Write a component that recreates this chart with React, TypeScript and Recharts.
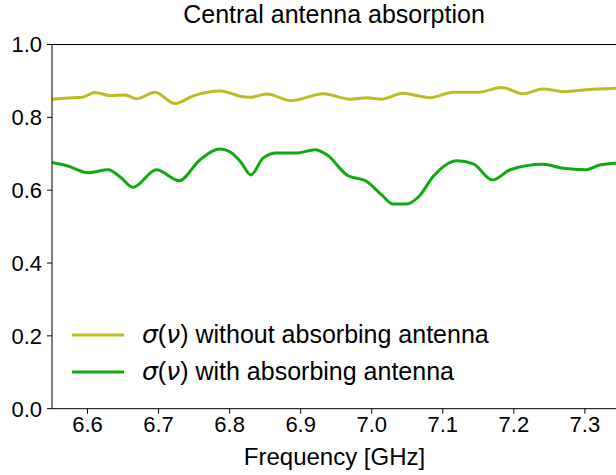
import { LineChart, Line, XAxis, YAxis } from 'recharts';

// sigma(nu) without absorbing antenna
const freqWithout = [
  6.55, 6.58, 6.592, 6.61, 6.632, 6.653, 6.669, 6.695, 6.723, 6.749, 6.786, 6.8, 6.815,
  6.829, 6.852, 6.887, 6.932, 6.969, 6.993, 7.014, 7.044, 7.068, 7.082, 7.115, 7.15,
  7.183, 7.213, 7.241, 7.27, 7.303, 7.345,
];
const sigmaWithout = [
  0.85, 0.854, 0.855, 0.868, 0.86, 0.861, 0.851, 0.869, 0.838, 0.859, 0.872, 0.867, 0.858,
  0.855, 0.864, 0.846, 0.865, 0.85, 0.854, 0.85, 0.866, 0.858, 0.854, 0.869, 0.869,
  0.882, 0.865, 0.878, 0.871, 0.876, 0.88,
];

// sigma(nu) with absorbing antenna
const freqWith = [
  6.55, 6.571, 6.601, 6.629, 6.646, 6.664, 6.697, 6.729, 6.758, 6.786, 6.8, 6.815, 6.83,
  6.847, 6.866, 6.894, 6.92, 6.937, 6.965, 6.993, 7.014, 7.03, 7.049, 7.066, 7.087, 7.12,
  7.143, 7.17, 7.195, 7.241, 7.27, 7.3, 7.321, 7.345,
];
const sigmaWith = [
  0.676, 0.667, 0.648, 0.656, 0.636, 0.608, 0.656, 0.626, 0.683, 0.713, 0.706, 0.679, 0.642,
  0.688, 0.702, 0.702, 0.711, 0.697, 0.642, 0.624, 0.587, 0.562, 0.562, 0.582, 0.639, 0.681,
  0.672, 0.628, 0.656, 0.671, 0.66, 0.656, 0.669, 0.674,
];

const xTicks = [6.6, 6.7, 6.8, 6.9, 7.0, 7.1, 7.2, 7.3];
const yTicks = [0, 0.2, 0.4, 0.6, 0.8, 1.0];

const seriesNames = ['without absorbing antenna', 'with absorbing antenna'];
const seriesColors = ['#bcbd22', '#10aa10'];

const withoutData = freqWithout.map((f, i) => ({ f, v: sigmaWithout[i] }));
const withData = freqWith.map((f, i) => ({ f, v: sigmaWith[i] }));

const FONT = '"Liberation Sans", Arial, sans-serif';
const MATH = { fontFamily: '"DejaVu Sans"', fontStyle: 'italic' as const };

export default function App() {
  return (
    <div style={{ position: 'absolute', left: 0, top: 0, width: 616, height: 475, overflow: 'hidden', background: '#fff', fontFamily: FONT }}>
      <div style={{ position: 'absolute', left: 52, top: 2, width: 564, textAlign: 'center', fontSize: 25, lineHeight: '25px' }}>
        Central antenna absorption
      </div>
      <LineChart width={620} height={475} margin={{ top: 34.5, right: 3, left: 0, bottom: 0 }}>
        <XAxis
          xAxisId="bottom"
          dataKey="f"
          type="number"
          domain={[6.55, 7.3452]}
          allowDataOverflow
          ticks={xTicks}
          tickFormatter={(t: number) => t.toFixed(1)}
          height={66.3}
          tickSize={5}
          tickMargin={3}
          stroke="#000"
          tick={{ fill: '#000', fontSize: 22 }}
          label={{ value: 'Frequency [GHz]', position: 'insideBottom', offset: 10, fill: '#000', fontSize: 24 }}
        />
        <XAxis
          xAxisId="top"
          orientation="top"
          dataKey="f"
          type="number"
          domain={[6.55, 7.3452]}
          allowDataOverflow
          ticks={xTicks}
          height={10}
          tickSize={5}
          tick={false}
          stroke="#000"
        />
        <YAxis
          type="number"
          domain={[0, 1]}
          ticks={yTicks}
          tickFormatter={(t: number) => t.toFixed(1)}
          width={52}
          tickSize={5}
          tickMargin={5}
          stroke="#000"
          tick={{ fill: '#000', fontSize: 22 }}
        />
        <Line
          xAxisId="bottom"
          data={withoutData}
          dataKey="v"
          name={seriesNames[0]}
          type="monotone"
          stroke={seriesColors[0]}
          strokeWidth={3}
          dot={false}
          isAnimationActive={false}
        />
        <Line
          xAxisId="bottom"
          data={withData}
          dataKey="v"
          name={seriesNames[1]}
          type="monotone"
          stroke={seriesColors[1]}
          strokeWidth={3}
          dot={false}
          isAnimationActive={false}
        />
      </LineChart>
      <div style={{ position: 'absolute', left: 60, top: 316, fontSize: 25, color: '#000' }}>
        {seriesNames.map((name, i) => (
          <div key={name} style={{ display: 'flex', alignItems: 'center', height: 37 }}>
            <svg width={82} height={10}>
              <line x1={12} x2={64} y1={5} y2={5} stroke={seriesColors[i]} strokeWidth={3} />
            </svg>
            <span style={{ whiteSpace: 'nowrap' }}>
              <span style={MATH}>σ</span>(<span style={MATH}>ν</span>) {name}
            </span>
          </div>
        ))}
      </div>
    </div>
  );
}
